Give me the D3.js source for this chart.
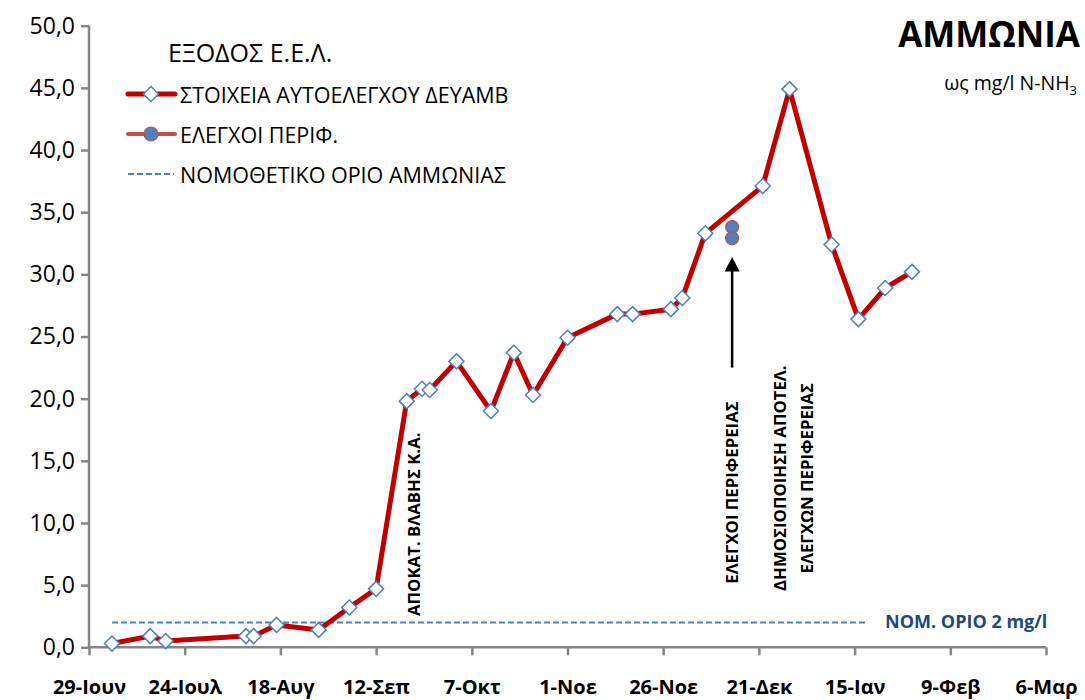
<!DOCTYPE html>
<html>
<head>
<meta charset="utf-8">
<script src="https://cdn.jsdelivr.net/npm/d3@7"></script>
<style>
  body { margin: 0; background: #fff; }
  text { font-family: "Open Sans", "Noto Sans", sans-serif; }
</style>
</head>
<body>
<div id="chart"></div>
<script>
// ---------------  DATA  ---------------
const sampleDates = ["2020-07-05","2020-07-15","2020-07-19","2020-08-09","2020-08-11","2020-08-17","2020-08-28",
  "2020-09-05","2020-09-12","2020-09-20","2020-09-24","2020-09-26","2020-10-03","2020-10-12","2020-10-18",
  "2020-10-23","2020-11-01","2020-11-14","2020-11-18","2020-11-28","2020-12-01","2020-12-07","2020-12-22",
  "2020-12-29","2021-01-09","2021-01-16","2021-01-23","2021-01-30"];
const sampleValues = [0.3, 0.9, 0.5, 0.9, 0.9, 1.8, 1.4, 3.2, 4.7, 19.8, 20.8, 20.7, 23.0, 19.0, 23.7,
  20.3, 24.9, 26.8, 26.8, 27.2, 28.1, 33.3, 37.1, 44.9, 32.4, 26.4, 28.9, 30.2];

const periphDates = ["2020-12-14", "2020-12-14"];
const periphValues = [33.8, 32.9];

const limitDates = ["2020-07-05", "2021-01-18"];
const limitValue = 2;

const xTickDates = ["2020-06-29","2020-07-24","2020-08-18","2020-09-12","2020-10-07","2020-11-01",
  "2020-11-26","2020-12-21","2021-01-15","2021-02-09","2021-03-06"];
const yTicks = [0, 5, 10, 15, 20, 25, 30, 35, 40, 45, 50];

const legendLabels = ["ΣΤΟΙΧΕΙΑ ΑΥΤΟΕΛΕΓΧΟΥ ΔΕΥΑΜΒ", "ΕΛΕΓΧΟΙ ΠΕΡΙΦ.", "ΝΟΜΟΘΕΤΙΚΟ ΟΡΙΟ ΑΜΜΩΝΙΑΣ"];

// annotations: anchor date, anchor value, lines
const notes = [
  {date: "2020-09-22", value: 9.9, lines: ["ΑΠΟΚΑΤ. ΒΛΑΒΗΣ Κ.Α."]},
  {date: "2020-12-14", value: 12.45, lines: ["ΕΛΕΓΧΟΙ ΠΕΡΙΦΕΡΕΙΑΣ"]},
  {date: "2020-12-30", value: 13.6, lines: ["ΔΗΜΟΣΙΟΠΟΙΗΣΗ ΑΠΟΤΕΛ.", "ΕΛΕΓΧΩΝ ΠΕΡΙΦΕΡΕΙΑΣ"]}
];
const arrowDate = "2020-12-14";
const arrowFrom = 22.5, arrowTo = 31.4;

// ---------------  INIT  ---------------
const W = 1085, H = 700;
const parse = d3.timeParse("%Y-%m-%d");

const gr = d3.timeFormatLocale({
  dateTime: "%c", date: "%d/%m/%Y", time: "%H:%M:%S", periods: ["πμ", "μμ"],
  days: ["Κυριακή","Δευτέρα","Τρίτη","Τετάρτη","Πέμπτη","Παρασκευή","Σάββατο"],
  shortDays: ["Κυρ","Δευ","Τρι","Τετ","Πεμ","Παρ","Σαβ"],
  months: ["Ιανουάριος","Φεβρουάριος","Μάρτιος","Απρίλιος","Μάιος","Ιούνιος","Ιούλιος","Αύγουστος","Σεπτέμβριος","Οκτώβριος","Νοέμβριος","Δεκέμβριος"],
  shortMonths: ["Ιαν","Φεβ","Μαρ","Απρ","Μαϊ","Ιουν","Ιουλ","Αυγ","Σεπ","Οκτ","Νοε","Δεκ"]
});
const fmtDate = gr.format("%-d-%b");

const svg = d3.select("#chart").append("svg")
  .attr("width", W).attr("height", H);

const x = d3.scaleTime()
  .domain([parse(xTickDates[0]), parse(xTickDates[xTickDates.length - 1])])
  .range([89, 1046]);
const y = d3.scaleLinear().domain([0, 50]).range([647.3, 25.7]);

const axisColor = "#868686";

// ---------------  AXES  ---------------
const yAxis = svg.append("g")
  .attr("transform", "translate(89,0)")
  .call(d3.axisLeft(y).tickValues(yTicks).tickSize(8).tickPadding(6)
    .tickFormat(d => d3.format(".1f")(d).replace(".", ",")));
const xAxis = svg.append("g")
  .attr("transform", "translate(0," + y(0) + ")")
  .call(d3.axisBottom(x).tickValues(xTickDates.map(parse)).tickSize(8).tickPadding(25)
    .tickFormat(fmtDate));

[yAxis, xAxis].forEach(g => {
  g.select(".domain").attr("stroke", axisColor).attr("stroke-width", 2.5);
  g.selectAll(".tick line").attr("stroke", axisColor).attr("stroke-width", 2.5);
});
yAxis.selectAll(".tick text").attr("font-size", 23).attr("fill", "#000");
xAxis.selectAll(".tick text").attr("font-size", 20).attr("font-weight", "bold").attr("fill", "#000");
// outer ticks replaced by explicit tickValues
yAxis.select(".domain").attr("d", "M0," + y(50) + "V" + y(0));
xAxis.select(".domain").attr("d", "M" + x.range()[0] + ",0H" + x.range()[1]);

// ---------------  LIMIT LINE  ---------------
svg.append("line")
  .attr("x1", x(parse(limitDates[0]))).attr("x2", x(parse(limitDates[1])))
  .attr("y1", y(limitValue)).attr("y2", y(limitValue))
  .attr("stroke", "#4f81bd").attr("stroke-width", 2).attr("stroke-dasharray", "6,3");

svg.append("text")
  .attr("x", x(parse(limitDates[1])) + 19).attr("y", y(limitValue) + 6)
  .attr("font-size", 18).attr("font-weight", "bold").attr("fill", "#1f497d")
  .text("ΝΟΜ. ΟΡΙΟ 2 mg/l");

// ---------------  MAIN SERIES  ---------------
const pts = sampleDates.map((d, i) => ({date: parse(d), value: sampleValues[i]}));
const line = d3.line().x(d => x(d.date)).y(d => y(d.value));

svg.append("path").datum(pts)
  .attr("d", line).attr("fill", "none")
  .attr("stroke", "#c00000").attr("stroke-width", 5).attr("stroke-linejoin", "round");

const diamond = "M0,-7.5L7.5,0L0,7.5L-7.5,0Z";
svg.selectAll("path.dot").data(pts).enter().append("path")
  .attr("class", "dot").attr("d", diamond)
  .attr("transform", d => "translate(" + x(d.date) + "," + y(d.value) + ")")
  .attr("fill", "#fff").attr("stroke", "#4f81bd").attr("stroke-width", 1.5);

// ---------------  PERIPHERY CHECKS  ---------------
svg.selectAll("circle.periph").data(periphDates.map((d, i) => ({date: parse(d), value: periphValues[i]})))
  .enter().append("circle").attr("class", "periph")
  .attr("cx", d => x(d.date)).attr("cy", d => y(d.value)).attr("r", 6.5)
  .attr("fill", "#4f81bd").attr("stroke", "#c0504d").attr("stroke-width", 1.2);

// ---------------  ARROW  ---------------
const ax = x(parse(arrowDate));
svg.append("line")
  .attr("x1", ax).attr("x2", ax).attr("y1", y(arrowFrom)).attr("y2", y(arrowTo) + 12)
  .attr("stroke", "#000").attr("stroke-width", 2.5);
svg.append("path")
  .attr("d", "M" + ax + "," + y(arrowTo) + "L" + (ax + 7.5) + "," + (y(arrowTo) + 14.5) + "L" + (ax - 7.5) + "," + (y(arrowTo) + 14.5) + "Z")
  .attr("fill", "#000");

// ---------------  ANNOTATIONS  ---------------
notes.forEach(n => {
  const cx = x(parse(n.date)), cy = y(n.value);
  const t = svg.append("text")
    .attr("transform", "translate(" + cx + "," + cy + ") rotate(-90)")
    .attr("text-anchor", "middle").attr("font-size", 16.8).attr("font-weight", "bold");
  const off = (n.lines.length - 1) / 2;
  n.lines.forEach((s, i) => {
    t.append("tspan").attr("x", 0).attr("y", (i - off) * 26.7 + 6).text(s);
  });
});

// ---------------  TITLE  ---------------
svg.append("text").attr("x", 1080).attr("y", 47).attr("text-anchor", "end")
  .attr("font-size", 35).attr("font-weight", "bold").text("ΑΜΜΩΝΙΑ");
const sub = svg.append("text").attr("x", 1077).attr("y", 90).attr("text-anchor", "end")
  .attr("font-size", 19.5);
sub.append("tspan").text("ως mg/l N-NH");
sub.append("tspan").attr("font-size", 13).attr("dy", 5).text("3");

// ---------------  LEGEND  ---------------
svg.append("text").attr("x", 168).attr("y", 52).attr("dominant-baseline", "central")
  .attr("font-size", 25).text("ΕΞΟΔΟΣ Ε.Ε.Λ.");

const legY = [94, 134, 174];
const leg = svg.append("g");
leg.append("line").attr("x1", 128).attr("x2", 175).attr("y1", legY[0]).attr("y2", legY[0])
  .attr("stroke", "#c00000").attr("stroke-width", 5).attr("stroke-linecap", "round");
leg.append("path").attr("d", diamond).attr("transform", "translate(151," + legY[0] + ")")
  .attr("fill", "#fff").attr("stroke", "#4f81bd").attr("stroke-width", 1.5);
leg.append("line").attr("x1", 128).attr("x2", 175).attr("y1", legY[1]).attr("y2", legY[1])
  .attr("stroke", "#c0504d").attr("stroke-width", 4).attr("stroke-linecap", "round");
leg.append("circle").attr("cx", 151).attr("cy", legY[1]).attr("r", 7)
  .attr("fill", "#4f81bd").attr("stroke", "#c0504d").attr("stroke-width", 1.2);
leg.append("line").attr("x1", 128).attr("x2", 174).attr("y1", legY[2]).attr("y2", legY[2])
  .attr("stroke", "#4f81bd").attr("stroke-width", 2).attr("stroke-dasharray", "6,3");

leg.selectAll("text").data(legendLabels).enter().append("text")
  .attr("x", 180).attr("y", (d, i) => legY[i]).attr("dominant-baseline", "central")
  .attr("font-size", 21.5).text(d => d);
</script>
</body>
</html>
